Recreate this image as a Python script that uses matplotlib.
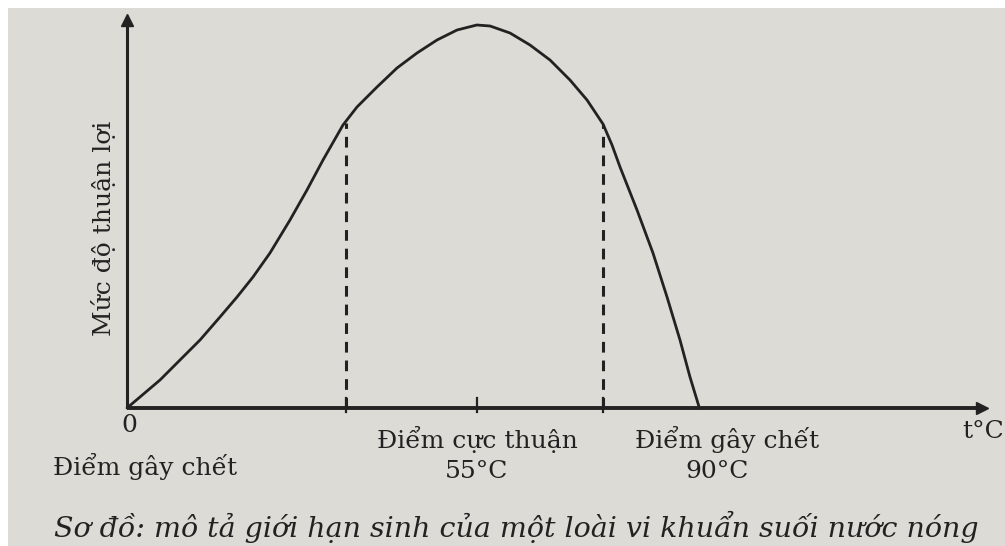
import matplotlib
matplotlib.use("Agg")
import matplotlib.pyplot as plt
from matplotlib.patches import Rectangle

# ---- data (temperature in °C, favourability in % of peak) ----
temperature = [0, 2.04, 5.19, 8.33, 11.48, 14.62, 17.30, 19.81, 22.48, 25.63, 28.30,
               30.82, 33.96, 36.16, 39.31, 42.45, 45.60, 48.74, 51.89, 55.0, 57.08,
               60.22, 63.36, 66.51, 69.65, 72.33, 74.84, 76.26, 77.52, 80.19, 82.70,
               84.91, 86.95, 88.52, 90.0]
favourability = [0, 2.87, 7.31, 12.53, 17.75, 23.76, 28.98, 34.20, 40.47, 49.09, 56.92,
                 64.75, 73.89, 78.59, 83.81, 88.77, 92.69, 96.08, 98.69, 100, 99.74,
                 97.91, 94.78, 90.86, 85.64, 80.42, 74.15, 68.67, 62.92, 51.70, 40.47,
                 28.98, 17.75, 8.09, 0]
limit_temps = [34.4, 74.84]          # dashed guide lines
limit_values = [74.4, 74.15]
tick_temps = [34.4, 55.0, 74.84]

x_label_left = "Điểm gây chết"
x_label_opt = ["Điểm cực thuận", "55°C"]
x_label_max = ["Điểm gây chết", "90°C"]
y_label = "Mức độ thuận lợi"
x_unit = "t°C"
caption = "Sơ đồ: mô tả giới hạn sinh của một loài vi khuẩn suối nước nóng"

W, H = 1005, 546
paper = "#dddbd6"
ink = "#222222"

fig = plt.figure(figsize=(W / 100, H / 100), dpi=100)
fig.patch.set_facecolor(paper)
# white scan border at top and left
fig.add_artist(Rectangle((0, 1 - 8 / H), 1, 8 / H, transform=fig.transFigure,
                         facecolor="white", edgecolor="none"))
fig.add_artist(Rectangle((0, 0), 8 / W, 1, transform=fig.transFigure,
                         facecolor="white", edgecolor="none"))

def fx(px):
    return px / W

def fy(py):
    return 1 - py / H

x0, y0, x1, y1 = 127, 408, 982, 20
ax = fig.add_axes([fx(x0), fy(y0), (x1 - x0) / W, (y0 - y1) / H])
ax.set_facecolor("none")
ax.set_xlim(0, (x1 - x0) / 6.36)
ax.set_ylim(0, (y0 - y1) / 3.83)
for s in ax.spines.values():
    s.set_visible(False)
ax.set_xticks([])
ax.set_yticks([])

# axes with arrows
ax.plot([0, 1], [0, 0], color=ink, lw=2.8, transform=ax.transAxes, clip_on=False,
        solid_capstyle="butt")
ax.plot([0, 0], [0, 1], color=ink, lw=2.2, transform=ax.transAxes, clip_on=False,
        solid_capstyle="butt")
ax.plot(1, 0, marker=">", color=ink, ms=9, transform=ax.transAxes, clip_on=False)
ax.plot(0, 1, marker="^", color=ink, ms=9, transform=ax.transAxes, clip_on=False)

# curve
ax.plot(temperature, favourability, color=ink, lw=2.0, clip_on=False,
        solid_joinstyle="round", solid_capstyle="round")

# dashed guides
for t, v in zip(limit_temps, limit_values):
    ax.plot([t, t], [0, v], color=ink, lw=2.2, ls=(0, (3.5, 2.6)), clip_on=False)

# tick marks
for t in tick_temps:
    ax.plot([t, t], [-1.0, 2.6], color=ink, lw=1.6, clip_on=False)

serif = ["DejaVu Serif"]
fs = 18
fig.text(fx(129), fy(425), "0", ha="center", va="center", fontsize=fs, family=serif, color=ink)
fig.text(fx(145), fy(467), x_label_left, ha="center", va="center", fontsize=fs, family=serif, color=ink)
fig.text(fx(477), fy(440), x_label_opt[0], ha="center", va="center", fontsize=fs, family=serif, color=ink)
fig.text(fx(477), fy(471), x_label_opt[1], ha="center", va="center", fontsize=fs, family=serif, color=ink)
fig.text(fx(727), fy(440), x_label_max[0], ha="center", va="center", fontsize=fs, family=serif, color=ink)
fig.text(fx(717), fy(471), x_label_max[1], ha="center", va="center", fontsize=fs, family=serif, color=ink)
fig.text(fx(983), fy(432), x_unit, ha="center", va="center", fontsize=fs, family=serif, color=ink)
fig.text(fx(103), fy(228), y_label, ha="center", va="center", rotation=90,
         fontsize=fs, family=serif, color=ink)
fig.text(fx(516), fy(527), caption, ha="center", va="center", fontsize=20.5,
         family=serif, style="italic", color=ink)

fig.savefig("out.png", dpi=100, facecolor=fig.get_facecolor())
